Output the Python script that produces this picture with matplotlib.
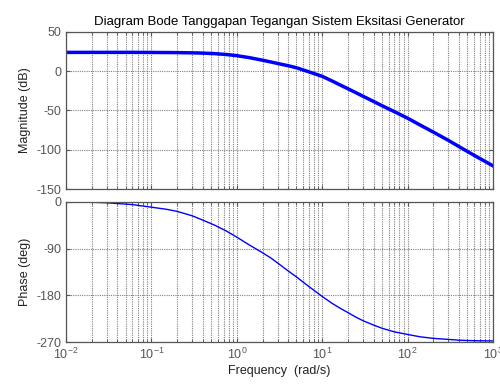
import matplotlib
matplotlib.use("Agg")
import matplotlib.pyplot as plt
from matplotlib.ticker import LogLocator, NullFormatter, FixedLocator


# -----------------------------
# Bode data (rad/s, dB, deg)
# -----------------------------
freq = [0.01, 0.02, 0.03, 0.06, 0.1, 0.15, 0.2, 0.3, 0.37, 0.55, 0.75, 1,
        1.4, 2, 2.5, 3.2, 4, 5, 7, 10, 13, 16, 20, 25, 30, 40, 50, 70, 100,
        140, 200, 300, 400, 600, 1000]
magnitude_db = [24.0, 24.0, 24.0, 24.0, 23.9, 23.8, 23.7, 23.4, 23.2, 22.4,
                21.3, 19.8, 17.3, 14.0, 11.8, 9.2, 7.0, 4.4, -0.8, -6.5,
                -12.3, -17.2, -22.3, -27.5, -31.8, -38.5, -43.8, -51.5, -59.8,
                -68.5, -77.5, -88.0, -96.0, -107.0, -120.5]
phase_deg = [0, -1, -2, -5.5, -10.5, -14.5, -18.5, -27, -33, -45, -56, -68,
             -83, -98, -108, -121, -133, -144.5, -163, -182, -195, -204, -213,
             -222, -228.5, -237, -243, -250, -255, -259.5, -262.5, -264.5,
             -266, -267, -267.5]

mag_ticks = [-150, -100, -50, 0, 50]
phase_ticks = [-270, -180, -90, 0]
freq_ticks = [1e-2, 1e-1, 1e0, 1e1, 1e2, 1e3]
freq_ticklabels = [r"$10^{-2}$", r"$10^{-1}$", r"$10^{0}$",
                   r"$10^{1}$", r"$10^{2}$", r"$10^{3}$"]

TITLE = "Diagram Bode Tanggapan Tegangan Sistem Eksitasi Generator"
FS = 9


def style_axes(ax):
    ax.set_xscale("log")
    ax.set_xlim(1e-2, 1e3)
    ax.xaxis.set_major_locator(FixedLocator(freq_ticks))
    ax.xaxis.set_minor_locator(LogLocator(base=10, subs=range(2, 10), numticks=20))
    ax.xaxis.set_minor_formatter(NullFormatter())
    ax.tick_params(which="both", direction="in", top=True, right=True,
                   colors="#555555", labelsize=FS)
    ax.tick_params(which="major", length=3)
    ax.tick_params(which="minor", length=2)
    grid_kw = dict(linestyle=(0, (1, 1)), color="#808080", lw=0.8)
    ax.grid(True, which="major", axis="both", **grid_kw)
    ax.grid(True, which="minor", axis="x", **grid_kw)
    for sp in ax.spines.values():
        sp.set_color("#555555")
        sp.set_linewidth(0.9)


def main() -> None:
    plt.rcParams["font.family"] = ["Liberation Sans", "DejaVu Sans"]
    plt.rcParams["mathtext.fontset"] = "custom"
    plt.rcParams["mathtext.rm"] = "Liberation Sans"
    plt.rcParams["mathtext.it"] = "Liberation Sans"
    plt.rcParams["mathtext.default"] = "regular"
    plt.rcParams["axes.unicode_minus"] = False

    fig = plt.figure(figsize=(5.0, 3.85), dpi=100)
    ax_mag = fig.add_axes([0.132, 0.509, 0.854, 0.408])
    ax_ph = fig.add_axes([0.132, 0.111, 0.854, 0.365])

    # Magnitude
    ax_mag.plot(freq, magnitude_db, color="#0000ff", lw=2.5)
    style_axes(ax_mag)
    ax_mag.set_ylim(-150, 50)
    ax_mag.set_yticks(mag_ticks)
    ax_mag.set_xticklabels([])
    ax_mag.set_ylabel("Magnitude (dB)", fontsize=FS, color="#222222")
    ax_mag.set_title(TITLE, fontsize=9.5, pad=5)

    # Phase
    ax_ph.plot(freq, phase_deg, color="#0000ff", lw=1.0)
    style_axes(ax_ph)
    ax_ph.set_ylim(-270, 0)
    ax_ph.set_yticks(phase_ticks)
    ax_ph.set_xticklabels(freq_ticklabels)
    ax_ph.set_ylabel("Phase (deg)", fontsize=FS, color="#222222")
    ax_ph.set_xlabel("Frequency  (rad/s)", fontsize=FS, labelpad=2, color="#222222")

    fig.savefig("out.png", dpi=100)
    plt.close(fig)


if __name__ == "__main__":
    main()
